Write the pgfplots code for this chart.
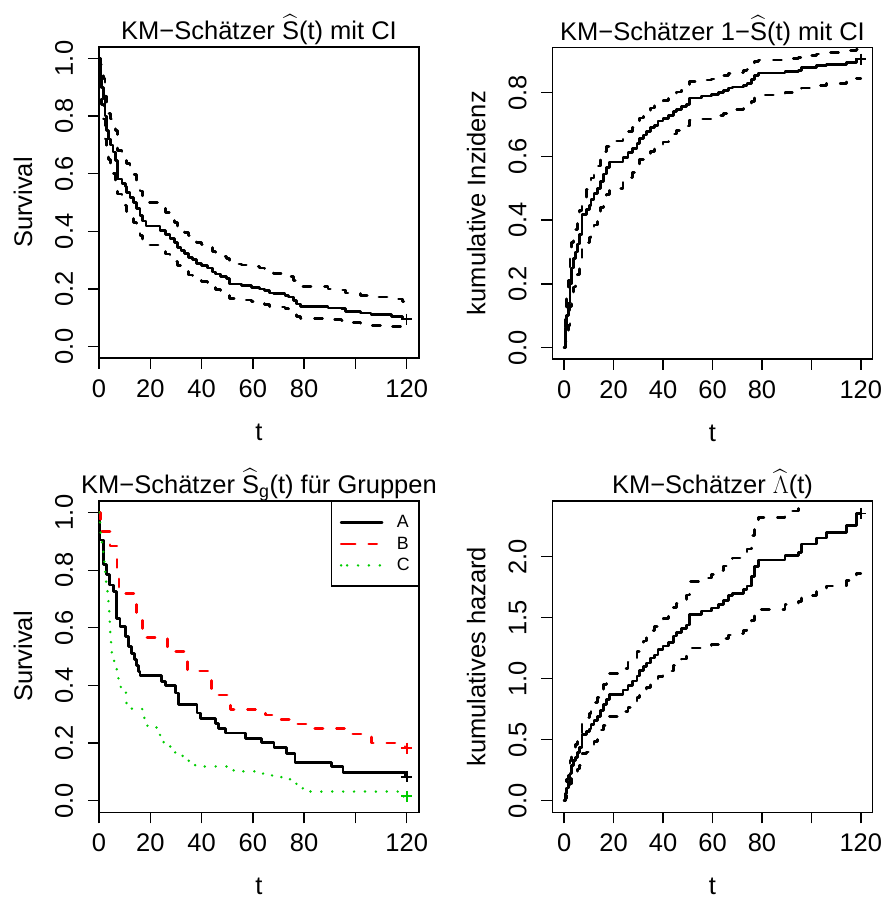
\documentclass[border=0pt]{standalone}
\usepackage{amsmath}
\usepackage{fontspec}
\setmainfont{Liberation Sans}
\usepackage{pgfplots}
\usepackage{pgfplotstable}
\pgfplotsset{compat=1.18}
\definecolor{rred}{HTML}{FF0000}
\definecolor{rgreen}{HTML}{00CD00}
\newcommand\fs{\fontsize{25.5}{30}\selectfont}

% KM estimate with CI: S, upper/lower; 1-S; cumulative hazard
\pgfplotstableread{
t     S     Su    Sl    F     Fl    Fu    H     Hl    Hu
0     1.000 1.000 1.000 0.000 0.000 0.000 0.000 0.000 0.000
0.5   0.940 0.980 0.900 0.060 0.020 0.100 0.062 0.020 0.105
1.0   0.900 0.950 0.840 0.100 0.050 0.160 0.105 0.051 0.174
1.7   0.860 0.930 0.790 0.140 0.070 0.210 0.151 0.073 0.236
2.3   0.800 0.870 0.720 0.200 0.130 0.280 0.223 0.139 0.329
3.0   0.750 0.830 0.670 0.250 0.170 0.330 0.288 0.186 0.400
3.7   0.720 0.810 0.650 0.280 0.190 0.350 0.329 0.211 0.431
4.5   0.700 0.790 0.630 0.300 0.210 0.370 0.357 0.236 0.462
5.5   0.675 0.770 0.600 0.325 0.230 0.400 0.393 0.261 0.511
6.3   0.645 0.750 0.570 0.355 0.250 0.430 0.439 0.288 0.562
7.2   0.582 0.680 0.530 0.418 0.320 0.470 0.541 0.386 0.635
9.0   0.567 0.670 0.505 0.433 0.330 0.495 0.567 0.400 0.683
10.2  0.555 0.655 0.490 0.445 0.345 0.510 0.589 0.423 0.713
10.8  0.535 0.635 0.468 0.465 0.365 0.532 0.625 0.454 0.759
12.1  0.517 0.615 0.447 0.483 0.385 0.553 0.660 0.486 0.805
13.4  0.500 0.597 0.430 0.500 0.403 0.570 0.693 0.516 0.844
14.7  0.478 0.560 0.410 0.522 0.440 0.590 0.738 0.580 0.892
16.0  0.455 0.540 0.385 0.545 0.460 0.615 0.787 0.616 0.954
17.0  0.436 0.520 0.370 0.564 0.480 0.630 0.830 0.654 0.994
18.3  0.418 0.500 0.352 0.582 0.500 0.648 0.872 0.693 1.044
23.8  0.403 0.480 0.338 0.597 0.520 0.662 0.909 0.734 1.085
25.8  0.388 0.466 0.321 0.612 0.534 0.679 0.947 0.764 1.136
27.7  0.375 0.450 0.310 0.625 0.550 0.690 0.981 0.799 1.171
29.5  0.360 0.430 0.295 0.640 0.570 0.705 1.022 0.844 1.221
30.5  0.343 0.410 0.280 0.657 0.590 0.720 1.070 0.892 1.273
32.0  0.333 0.405 0.270 0.667 0.595 0.730 1.100 0.904 1.309
33.4  0.323 0.396 0.260 0.677 0.604 0.740 1.130 0.926 1.347
35.0  0.310 0.385 0.248 0.690 0.615 0.752 1.171 0.954 1.394
36.5  0.303 0.375 0.240 0.697 0.625 0.760 1.194 0.981 1.427
38.0  0.289 0.362 0.230 0.711 0.638 0.770 1.241 1.016 1.470
40.0  0.281 0.355 0.225 0.719 0.645 0.775 1.269 1.036 1.492
42.2  0.273 0.345 0.218 0.727 0.655 0.782 1.298 1.064 1.523
44.2  0.259 0.330 0.205 0.741 0.670 0.795 1.351 1.109 1.585
45.5  0.252 0.320 0.198 0.748 0.680 0.802 1.378 1.139 1.619
47.5  0.244 0.313 0.192 0.756 0.687 0.808 1.411 1.162 1.650
49.6  0.237 0.305 0.185 0.763 0.695 0.815 1.440 1.187 1.687
50.8  0.217 0.286 0.166 0.783 0.714 0.834 1.528 1.252 1.796
55.5  0.211 0.283 0.161 0.789 0.717 0.839 1.556 1.262 1.826
59.5  0.206 0.278 0.157 0.794 0.722 0.843 1.580 1.280 1.852
62.5  0.200 0.272 0.152 0.800 0.728 0.848 1.609 1.302 1.884
64.5  0.194 0.265 0.146 0.806 0.735 0.854 1.640 1.328 1.924
66.5  0.186 0.257 0.140 0.814 0.743 0.860 1.682 1.359 1.966
68.0  0.183 0.254 0.137 0.817 0.746 0.863 1.698 1.370 1.988
72.5  0.177 0.248 0.131 0.823 0.752 0.869 1.732 1.394 2.033
74.0  0.172 0.242 0.127 0.828 0.758 0.873 1.760 1.419 2.064
75.8  0.159 0.228 0.114 0.841 0.772 0.886 1.839 1.478 2.171
77.0  0.147 0.216 0.103 0.853 0.784 0.897 1.917 1.532 2.273
78.5  0.139 0.208 0.098 0.861 0.792 0.902 1.973 1.570 2.323
89.3  0.134 0.200 0.093 0.866 0.800 0.907 2.010 1.609 2.375
94.7  0.131 0.196 0.091 0.869 0.804 0.909 2.033 1.630 2.397
96.0  0.122 0.186 0.083 0.878 0.814 0.917 2.104 1.682 2.489
102.1 0.116 0.178 0.079 0.884 0.822 0.921 2.154 1.726 2.538
106.1 0.111 0.172 0.074 0.889 0.828 0.926 2.198 1.760 2.604
114.2 0.105 0.165 0.069 0.895 0.835 0.931 2.254 1.802 2.674
118.3 0.095 0.155 0.065 0.905 0.845 0.935 2.354 1.864 2.733
120.0 0.095 0.155 0.065 0.905 0.845 0.935 2.354 1.864 2.733
}\kmmain

\pgfplotstableread{
t     S
0     1.000
0.4   0.905
1.7   0.819
3.0   0.784
4.0   0.749
5.6   0.727
6.9   0.633
8.2   0.605
10.2  0.570
11.5  0.535
12.8  0.510
13.8  0.490
14.7  0.470
15.4  0.449
16.0  0.435
24.3  0.414
25.8  0.400
29.7  0.374
31.0  0.335
38.2  0.304
39.5  0.285
45.3  0.268
46.6  0.250
49.2  0.235
57.1  0.217
63.3  0.202
68.3  0.186
73.0  0.165
76.4  0.133
90.8  0.118
95.2  0.099
119.4 0.084
120.0 0.084
}\grpA

\pgfplotstableread{
t     S
0     1.000
0.5   0.935
4.3   0.884
7.0   0.800
7.8   0.718
14.7  0.640
16.9  0.567
26.6  0.517
34.5  0.450
44.0  0.367
51.2  0.316
64.9  0.298
68.5  0.283
76.0  0.266
82.5  0.250
98.0  0.232
106.2 0.200
119.3 0.183
120.0 0.183
}\grpB

\pgfplotstableread{
t     S
0     1.000
0.4   0.930
1.0   0.897
1.7   0.860
2.1   0.824
2.4   0.790
2.8   0.760
3.3   0.720
3.7   0.686
4.0   0.651
4.2   0.616
4.4   0.582
4.7   0.547
5.0   0.510
5.9   0.483
6.9   0.455
7.6   0.420
8.5   0.385
10.5  0.339
12.8  0.318
17.7  0.284
18.9  0.254
23.8  0.223
25.2  0.200
27.8  0.183
29.7  0.163
32.6  0.151
35.0  0.125
37.5  0.119
52.5  0.102
64.0  0.093
67.5  0.082
74.5  0.067
77.0  0.050
79.5  0.032
118.5 0.015
120.0 0.015
}\grpC

\pgfplotsset{
  km/.style={
    scale only axis,
    anchor=south west,
    axis line style={line width=1.35pt},
    every tick/.style={line width=1.35pt, black},
    major tick length=11pt,
    tick align=outside,
    tick pos=left,
    xtick={0,20,40,60,80,100,120},
    xticklabels={0,20,40,60,80,,120},
    tick label style={font=\fs},
    label style={font=\fs},
    title style={font=\fs, at={(axis description cs:0.5,1)}, anchor=base, yshift=1pt},
    xticklabel style={anchor=base, yshift=-28.5pt},
    yticklabel style={xshift=-15pt, rotate=90, anchor=base},
    xlabel style={at={(axis description cs:0.5,-0.264)}, anchor=base, inner sep=0pt},
    ylabel style={at={(axis description cs:-0.209,0.5)}, anchor=base},
    xlabel={t},
    /pgf/number format/assume math mode=true,
  },
  est/.style={const plot, line width=2.7pt, line join=round, line cap=round},
  ci/.style={est, dash pattern=on 8.1pt off 13.5pt},
  cens/.style={only marks, mark=+, mark size=5.5pt, mark options={line width=1.35pt}},
}

\begin{document}
\begin{tikzpicture}
\path[use as bounding box] (0,0) rectangle (881pt,897pt);

\begin{axis}[km, at={(99pt,539pt)}, width=320pt, height=311pt,
    xmin=0, xmax=124.8, ymin=-0.04, ymax=1.04,
    ytick={0,0.2,0.4,0.6,0.8,1}, yticklabels={0.0,0.2,0.4,0.6,0.8,1.0},
    ylabel={Survival}, title={KM−Schätzer $\widehat{\text{S}}$(t) mit CI}]
\addplot[est] table[x=t,y=S]{\kmmain};
\addplot[ci] table[x=t,y=Su]{\kmmain};
\addplot[ci] table[x=t,y=Sl]{\kmmain};
\addplot[cens] coordinates {(120,0.095)};
\end{axis}

\begin{axis}[km, at={(552.3pt,538pt)}, width=320.4pt, height=311.7pt,
    xmin=-4.8, xmax=124.8, ymin=-0.0355, ymax=0.942,
    ytick={0,0.2,0.4,0.6,0.8}, yticklabels={0.0,0.2,0.4,0.6,0.8},
    ylabel={kumulative Inzidenz}, title={KM−Schätzer 1−$\widehat{\text{S}}$(t) mit CI}]
\addplot[est] table[x=t,y=F]{\kmmain};
\addplot[ci] table[x=t,y=Fl]{\kmmain};
\addplot[ci] table[x=t,y=Fu]{\kmmain};
\addplot[cens] coordinates {(120,0.905)};
\end{axis}

\begin{axis}[km, at={(99pt,84.7pt)}, width=320pt, height=311.3pt,
    xmin=0, xmax=124.8, ymin=-0.04, ymax=1.04,
    ytick={0,0.2,0.4,0.6,0.8,1}, yticklabels={0.0,0.2,0.4,0.6,0.8,1.0},
    ylabel={Survival}, title={KM−Schätzer $\widehat{\text{S}}_{\text{g}}$(t) für Gruppen},
    legend cell align=left,
    legend image code/.code={\path (-6pt,0pt) -- (0pt,0pt); \draw[#1] (0pt,0pt) -- (35pt,0pt);},
    legend style={at={(axis description cs:1,1)}, anchor=north east, draw=black,
      line width=1.35pt, font=\fontsize{17.8}{21}\selectfont,
      inner xsep=8.5pt, inner ysep=10pt, row sep=0pt, column sep=13.5pt,
      nodes={inner sep=0pt, minimum height=21.5pt}}]
\addplot[est] table[x=t,y=S]{\grpA};
\addlegendentry{A}
\addplot[est, rred, dash pattern=on 8.1pt off 13.5pt] table[x=t,y=S]{\grpB};
\addlegendentry{B}
\addplot[est, rgreen, dash pattern=on 0pt off 10.9pt] table[x=t,y=S]{\grpC};
\addlegendentry{C}
\addplot[cens, forget plot, mark options={line width=2pt}] coordinates {(120,0.084)};
\addplot[cens, forget plot, rred, mark options={line width=2pt}] coordinates {(120,0.183)};
\addplot[cens, forget plot, rgreen, mark options={line width=2pt}] coordinates {(120,0.015)};
\end{axis}

\begin{axis}[km, at={(552.3pt,84.7pt)}, width=320.4pt, height=311.3pt,
    xmin=-4.8, xmax=124.8, ymin=-0.094, ymax=2.456,
    ytick={0,0.5,1,1.5,2}, yticklabels={0.0,0.5,1.0,1.5,2.0},
    ylabel={kumulatives hazard}, title={KM−Schätzer $\widehat{\Lambda}$(t)}]
\addplot[est] table[x=t,y=H]{\kmmain};
\addplot[ci] table[x=t,y=Hl]{\kmmain};
\addplot[ci] table[x=t,y=Hu]{\kmmain};
\addplot[cens] coordinates {(120,2.354)};
\end{axis}
\end{tikzpicture}
\end{document}
